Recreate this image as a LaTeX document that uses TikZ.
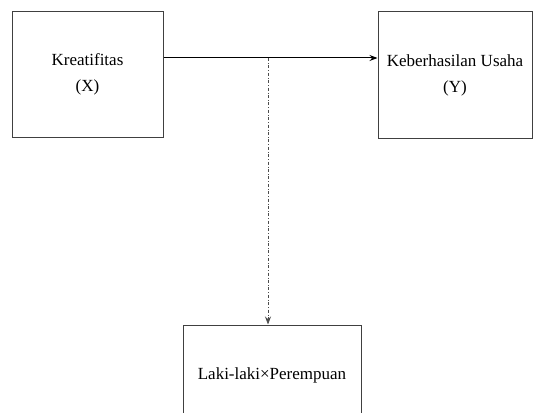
\documentclass[tikz,border=0pt]{standalone}
\usepackage{fontspec}
\setmainfont{Liberation Serif}
\usetikzlibrary{arrows.meta}
\begin{document}
\begin{tikzpicture}[x=1pt,y=-1pt,>={Stealth[length=8pt,width=6pt]},
					thin,main node/.style = {rectangle,draw=black!75,line width=1pt,align=center,
					font=\fontsize{17}{26}\selectfont}]
					
					\useasboundingbox (0,0) rectangle (535,412);
					\node[main node,minimum width=151pt,minimum height=125pt] at (87.5,74.5) (1) {Kreatifitas\\(X)};
					\node[main node,minimum width=154pt,minimum height=126pt] at (455,75) (2) {Keberhasilan Usaha\\(Y)};
					\node[main node,minimum width=178pt,minimum height=100pt] at (272,375) (3) {Laki-laki×Perempuan};
					\coordinate (m) at (268,58);
					
					\draw[->,line width=1pt] ([yshift=16.5pt]1.east) -- ([yshift=17pt]2.west);
					\draw[->,dash dot,line width=0.8pt,black!70] (m) -- (m |- 3.north);
					
					\end{tikzpicture}
\end{document}
